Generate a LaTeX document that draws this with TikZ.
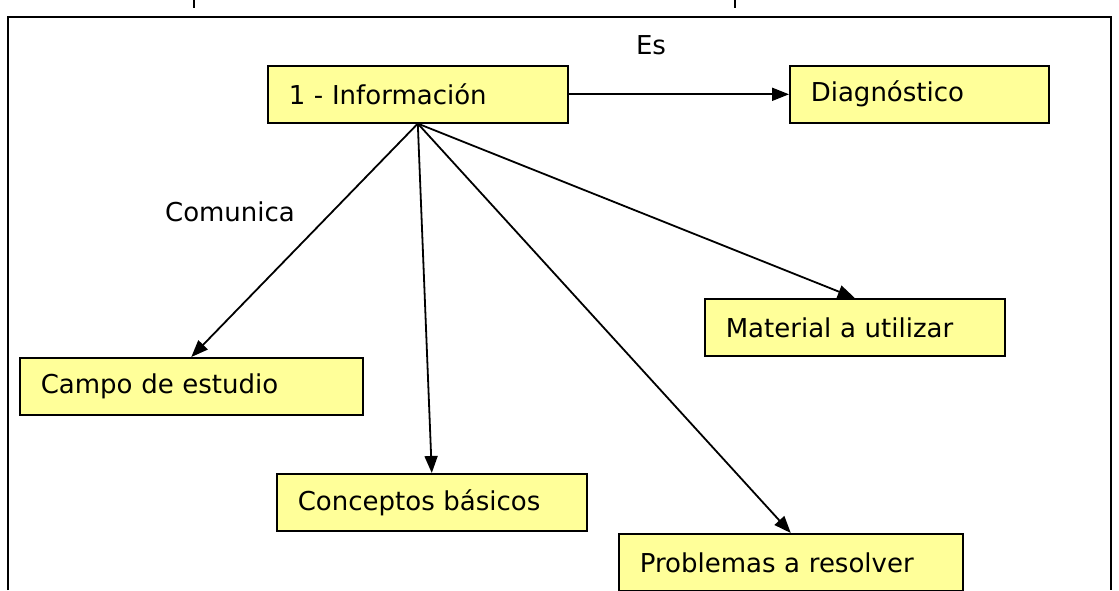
\documentclass[tikz,border=0pt]{standalone}
\usepackage{fontspec}
\setmainfont{DejaVu Sans}
\usetikzlibrary{arrows.meta}
\definecolor{amarillo}{HTML}{FFFF99}

\begin{document}
\begin{tikzpicture}[x=1pt, y=-1pt,
  caja/.style={draw=black, line width=1.6pt, fill=amarillo, anchor=north west,
    minimum height=57pt, inner xsep=21pt, align=left, font=\fontsize{26}{30}\selectfont},
  flecha/.style={-{Triangle[length=17pt,width=13pt]}, line width=1.8pt},
  rotulo/.style={font=\fontsize{26}{30}\selectfont}]

\useasboundingbox (0,0) rectangle (1119,590);

% marco
\draw[line width=2pt] (8,590) -- (8,17) -- (1111,17) -- (1111,590);
\foreach \x in {194, 735}
	\draw[line width=1.5pt] (\x,0) -- (\x,8);

\node[caja, text width=258pt] (info) at (267,65) {1 - Información};
\node[caja, text width=217pt] (diag) at (789,65) {Diagnóstico};
\node[caja, text width=301pt] (campo) at (19,357) {Campo de estudio};
\node[caja, text width=268pt] (conceptos) at (276,473) {Conceptos básicos};
\node[caja, text width=302pt] (problemas) at (618,533) {Problemas a resolver};
\node[caja, text width=258pt] (material) at (704,298) {Material a utilizar};

\node[rotulo] (es) at (651,45) {Es};
\node[rotulo] (comunica) at (230,212) {Comunica};

\draw[flecha] (info.east) -- (diag.west);
\foreach \dest in {campo, conceptos, problemas, material}
	\draw[flecha] (info.south) -- (\dest.north);

\end{tikzpicture}
\end{document}
